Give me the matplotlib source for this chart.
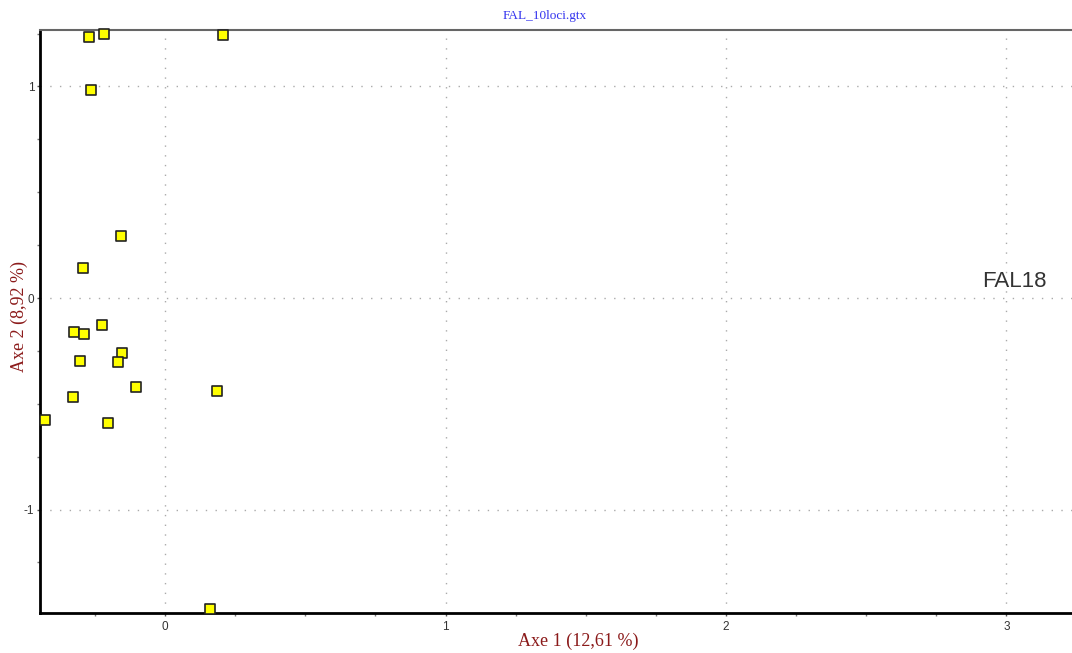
import matplotlib
matplotlib.use("Agg")
import matplotlib.pyplot as plt
from matplotlib.ticker import MultipleLocator

plt.rcParams["axes.unicode_minus"] = False

# Factorial correspondence analysis coordinates (axis 1, axis 2)
axe1 = [-0.271, -0.217, 0.207, -0.264, -0.157, -0.292, -0.324, -0.289, -0.225,
        -0.153, -0.303, -0.168, -0.103, 0.185, -0.328, -0.428, -0.203, 0.160]
axe2 = [1.234, 1.248, 1.243, 0.983, 0.293, 0.142, -0.161, -0.170, -0.128,
        -0.260, -0.298, -0.303, -0.421, -0.440, -0.468, -0.577, -0.591, -1.470]

title = "FAL_10loci.gtx"
xlabel = "Axe 1 (12,61 %)"
ylabel = "Axe 2 (8,92 %)"
pop_label = "FAL18"
pop_pos = (2.915, 0.052)

serif = ["Liberation Serif", "DejaVu Serif"]
sans = ["Liberation Sans", "DejaVu Sans"]
dark_red = "#8b1a1a"

fig = plt.figure(figsize=(10.72, 6.53), dpi=100)
ax = fig.add_axes([40 / 1072, 1 - 613 / 653, 1 - 40 / 1072, (613 - 30) / 653])

ax.set_xlim(-0.446, 3.234)
ax.set_ylim(-1.489, 1.267)

ax.scatter(axe1, axe2, marker="s", s=62, facecolor="#ffff00",
           edgecolor="#222222", linewidth=1.2, zorder=3, clip_on=False)

ax.text(pop_pos[0], pop_pos[1], pop_label, fontsize=16, color="#333333",
        family=sans, ha="left", va="baseline")

# Major gridlines only, dotted
ax.xaxis.set_major_locator(MultipleLocator(1))
ax.yaxis.set_major_locator(MultipleLocator(1))
ax.xaxis.set_minor_locator(MultipleLocator(0.25))
ax.yaxis.set_minor_locator(MultipleLocator(0.25))
ax.grid(True, which="major", color="#aaaaaa", linestyle=(0, (1, 6)), linewidth=1)

ax.tick_params(which="major", direction="out", length=2.5, width=1, color="#555555",
               labelsize=8.5, labelcolor="#333333", pad=1.5)
ax.tick_params(which="minor", direction="out", length=2.5, width=1, color="#777777")
ax.tick_params(axis="x", which="major", pad=3)
for lab in ax.get_xticklabels() + ax.get_yticklabels():
    lab.set_family(sans)

ax.spines["right"].set_visible(False)
ax.spines["top"].set_color("#666666")
ax.spines["top"].set_linewidth(1.5)
ax.spines["left"].set_linewidth(2)
ax.spines["bottom"].set_linewidth(2)
ax.spines["left"].set_color("black")
ax.spines["bottom"].set_color("black")

fig.text(545 / 1072, 1 - 16 / 653, title, color="#3333ee", fontsize=9.5,
         family=serif, ha="center", va="center")
fig.text(578 / 1072, 1 - 641 / 653, xlabel, color=dark_red, fontsize=13,
         family=serif, ha="center", va="center")
fig.text(19 / 1072, 1 - 316 / 653, ylabel, color=dark_red, fontsize=13,
         family=serif, ha="center", va="center", rotation=90)

fig.savefig("out.png", dpi=100)
